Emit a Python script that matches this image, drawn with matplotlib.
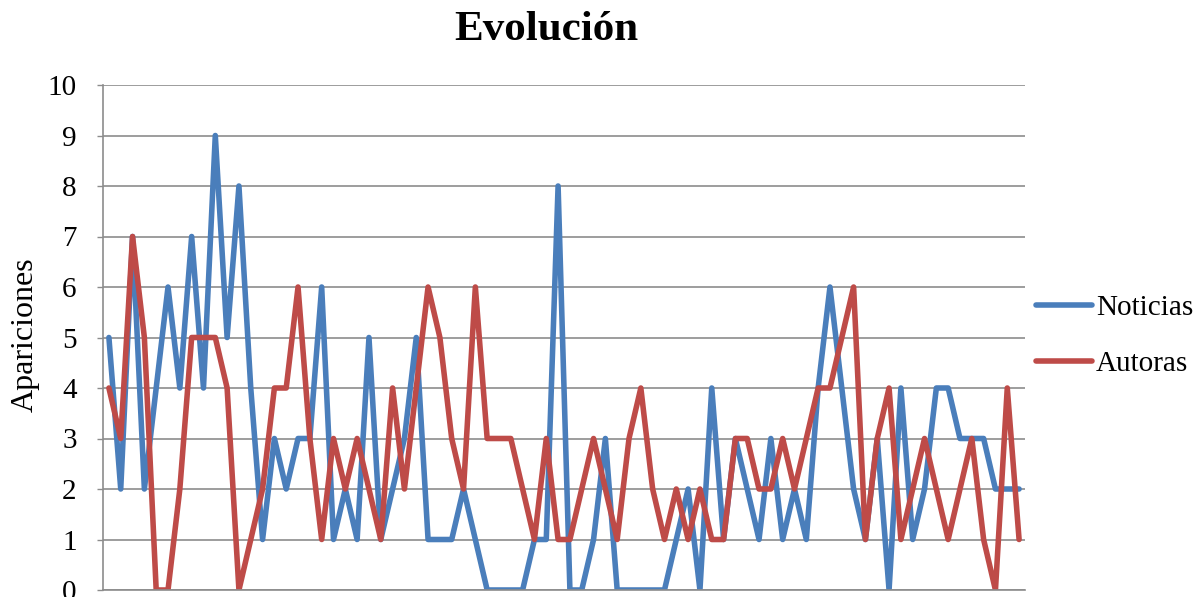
import numpy as np
import matplotlib.pyplot as plt

# apariciones por periodo
noticias = [5, 2, 7, 2, 4, 6, 4, 7, 4, 9, 5, 8, 4, 1, 3, 2, 3, 3, 6, 1,
            2, 1, 5, 1, 2, 3, 5, 1, 1, 1, 2, 1, 0, 0, 0, 0, 1, 1, 8, 0,
            0, 1, 3, 0, 0, 0, 0, 0, 1, 2, 0, 4, 1, 3, 2, 1, 3, 1, 2, 1,
            4, 6, 4, 2, 1, 3, 0, 4, 1, 2, 4, 4, 3, 3, 3, 2, 2, 2]
autoras = [4, 3, 7, 5, 0, 0, 2, 5, 5, 5, 4, 0, 1, 2, 4, 4, 6, 3, 1, 3,
           2, 3, 2, 1, 4, 2, 4, 6, 5, 3, 2, 6, 3, 3, 3, 2, 1, 3, 1, 1,
           2, 3, 2, 1, 3, 4, 2, 1, 2, 1, 2, 1, 1, 3, 3, 2, 2, 3, 2, 3,
           4, 4, 5, 6, 1, 3, 4, 1, 2, 3, 2, 1, 2, 3, 1, 0, 4, 1]
yticks = list(range(0, 11))

BLUE = '#4a7ebb'
RED = '#be4b48'
GRID = '#8c8c8c'

plt.rcParams['font.family'] = ['Liberation Serif', 'DejaVu Serif']

W, H = 1198, 597
fig = plt.figure(figsize=(W / 100, H / 100), dpi=100)
ax = fig.add_axes([103 / W, 1 - 590 / H, (1025 - 103) / W, (590 - 85) / H])

x = np.arange(len(noticias))
line_kw = dict(lw=4.0, solid_joinstyle='round', solid_capstyle='round')
ax.plot(x, noticias, color=BLUE, label='Noticias', **line_kw)
ax.plot(x, autoras, color=RED, label='Autoras', **line_kw)

ax.set_xlim(-0.5, len(noticias) - 0.5)
ax.set_ylim(0, 10)
ax.set_yticks(yticks)
ax.set_xticks([])
ax.yaxis.grid(True, color=GRID, lw=1.2)
ax.set_axisbelow(True)
ax.tick_params(axis='y', direction='out', length=4, width=1, color=GRID,
               pad=15, labelsize=21)
for side in ['top', 'right']:
    ax.spines[side].set_visible(False)
for side in ['left', 'bottom']:
    ax.spines[side].set_color(GRID)
    ax.spines[side].set_linewidth(1.2)
    ax.spines[side].set_clip_on(False)

fig.text(546 / W, 1 - 30 / H, 'Evolución', ha='center', va='center',
         fontsize=31, fontweight='bold')
fig.text(25 / W, 1 - 335 / H, 'Apariciones', ha='center', va='center',
         rotation=90, fontsize=23)

fig.legend(loc='center left', bbox_to_anchor=(1036 / W, 1 - 336 / H),
           frameon=False, fontsize=21, handlelength=1.92, handletextpad=0.14,
           labelspacing=1.0, borderpad=0, borderaxespad=0)

fig.savefig('out.png', dpi=100)
